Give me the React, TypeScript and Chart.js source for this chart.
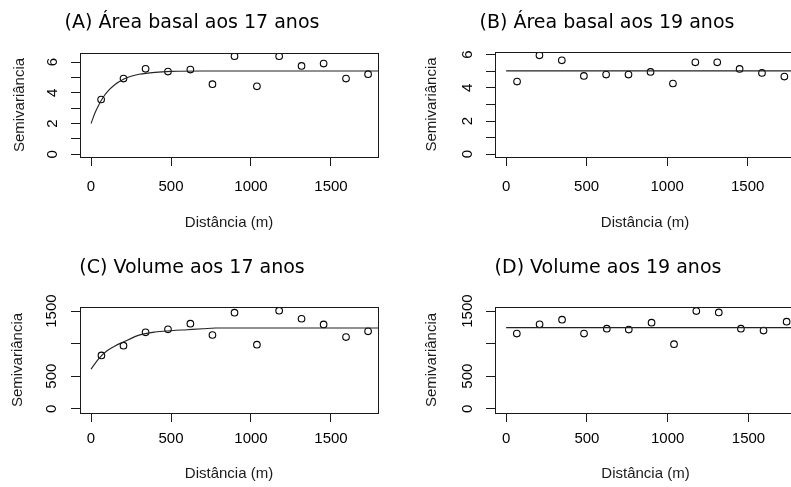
import React, { useEffect, useRef } from 'react';
import { Chart, registerables } from 'chart.js';

Chart.register(...registerables);

// ---------- data ----------
const xTicks = [0, 500, 1000, 1500];
const xMin = -69;
const xMax = 1794;

const titleA = '(A) Área basal aos 17 anos';
const lagsA = [63, 203, 341, 481, 621, 759, 897, 1037, 1176, 1316, 1454, 1594, 1732];
const gammaA = [3.57, 4.93, 5.57, 5.39, 5.52, 4.57, 6.39, 4.43, 6.39, 5.76, 5.91, 4.93, 5.22];
const modelDistA = [0, 25, 50, 75, 100, 150, 200, 250, 300, 400, 500, 700, 1794];
const modelGammaA = [2.0, 2.7, 3.25, 3.7, 4.05, 4.55, 4.87, 5.08, 5.21, 5.34, 5.4, 5.43, 5.43];
const yTicksA = [0, 1, 2, 3, 4, 5, 6];
const yLabelsA = ['0', '', '2', '', '4', '', '6'];

const titleB = '(B) Área basal aos 19 anos';
const lagsB = [68, 207, 346, 483, 621, 760, 897, 1036, 1175, 1311, 1450, 1589, 1728];
const gammaB = [4.38, 5.96, 5.66, 4.72, 4.8, 4.8, 4.96, 4.26, 5.54, 5.54, 5.14, 4.9, 4.68];
const modelDistB = [0, 1794];
const modelGammaB = [5.02, 5.02];
const yTicksB = [0, 1, 2, 3, 4, 5, 6];
const yLabelsB = ['0', '', '2', '', '4', '', '6'];

const titleC = '(C) Volume aos 17 anos';
const lagsC = [65, 203, 341, 481, 621, 759, 897, 1037, 1176, 1316, 1454, 1594, 1732];
const gammaC = [819, 968, 1173, 1219, 1306, 1132, 1475, 983, 1505, 1382, 1295, 1101, 1188];
const modelDistC = [0, 50, 100, 150, 200, 300, 400, 500, 600, 700, 780, 1794];
const modelGammaC = [609, 775, 890, 965, 1022, 1130, 1178, 1198, 1213, 1228, 1239, 1239];
const yTicksC = [0, 500, 1000, 1500];
const yLabelsC = ['0', '500', '', '1500'];

const titleD = '(D) Volume aos 19 anos';
const lagsD = [66, 207, 346, 482, 623, 759, 900, 1039, 1177, 1316, 1453, 1593, 1736];
const gammaD = [1154, 1296, 1368, 1154, 1230, 1215, 1322, 991, 1500, 1479, 1230, 1200, 1337];
const modelDistD = [0, 1794];
const modelGammaD = [1246, 1246];
const yTicksD = [0, 500, 1000, 1500];
const yLabelsD = ['0', '500', '', '1500'];

const xLabel = 'Distância (m)';
const yLabel = 'Semivariância';

// ---------- layout / style ----------
const AXIS_FONT = '"Liberation Sans", Arial, sans-serif';
const TITLE_FONT = '"DejaVu Sans", Verdana, sans-serif';

type Spec = {
  title: string;
  lags: number[];
  gamma: number[];
  mDist: number[];
  mGamma: number[];
  yTicks: number[];
  yLabels: string[];
  yMin: number;
  yMax: number;
  left: number;
  top: number;
  w: number;
  h: number;
  pl: number;
  pr: number;
  ys: number;
  xs: number;
  tPadTop: number;
  tPadBottom: number;
  xTickPad: number;
  xTitlePad: number;
  yTickPad: number;
  yTitlePad: number;
};

const specs: Spec[] = [
  {
    title: titleA, lags: lagsA, gamma: gammaA, mDist: modelDistA, mGamma: modelGammaA,
    yTicks: yTicksA, yLabels: yLabelsA, yMin: -0.18, yMax: 6.6,
    left: 0, top: 0, w: 395, h: 243, pl: 6, pr: 17, ys: 74, xs: 86,
    tPadTop: 12, tPadBottom: 18.2, xTickPad: 12, xTitlePad: 11.5, yTickPad: 14, yTitlePad: 4.5,
  },
  {
    title: titleB, lags: lagsB, gamma: gammaB, mDist: modelDistB, mGamma: modelGammaB,
    yTicks: yTicksB, yLabels: yLabelsB, yMin: -0.17, yMax: 6.16,
    left: 395, top: 0, w: 410, h: 243, pl: 24, pr: 10, ys: 76, xs: 86,
    tPadTop: 12, tPadBottom: 17.2, xTickPad: 12, xTitlePad: 11.5, yTickPad: 14, yTitlePad: 3.4,
  },
  {
    title: titleC, lags: lagsC, gamma: gammaC, mDist: modelDistC, mGamma: modelGammaC,
    yTicks: yTicksC, yLabels: yLabelsC, yMin: -65, yMax: 1562,
    left: 0, top: 243, w: 395, h: 244, pl: 6, pr: 17, ys: 74, xs: 74,
    tPadTop: 14, tPadBottom: 27.2, xTickPad: 8, xTitlePad: 4, yTickPad: 2, yTitlePad: 3,
  },
  {
    title: titleD, lags: lagsD, gamma: gammaD, mDist: modelDistD, mGamma: modelGammaD,
    yTicks: yTicksD, yLabels: yLabelsD, yMin: -65, yMax: 1562,
    left: 395, top: 243, w: 410, h: 244, pl: 25, pr: 9, ys: 75, xs: 74,
    tPadTop: 14, tPadBottom: 27.2, xTickPad: 8, xTitlePad: 4, yTickPad: 1.5, yTitlePad: 2.4,
  },
];

const boxPlugin = {
  id: 'rbox',
  afterDraw(chart: any) {
    const { ctx, chartArea: a } = chart;
    ctx.save();
    ctx.strokeStyle = '#1a1a1a';
    ctx.lineWidth = 1;
    const l = Math.round(a.left) + 0.5;
    const t = Math.round(a.top) + 0.5;
    const r = Math.round(a.right) + 0.5;
    const b = Math.round(a.bottom) + 0.5;
    ctx.strokeRect(l, t, r - l, b - t);
    ctx.restore();
  },
};

function makeConfig(s: Spec): any {
  const axisFont = { family: AXIS_FONT, size: 15 };
  return {
    type: 'scatter',
    data: {
      datasets: [
        {
          data: s.mDist.map((x, i) => ({ x, y: s.mGamma[i] })),
          showLine: true,
          borderColor: '#222',
          borderWidth: 1.1,
          pointRadius: 0,
          cubicInterpolationMode: 'monotone',
        },
        {
          data: s.lags.map((x, i) => ({ x, y: s.gamma[i] })),
          showLine: false,
          pointRadius: 3.3,
          pointBorderWidth: 1.1,
          pointBorderColor: '#000',
          pointBackgroundColor: 'rgba(0,0,0,0)',
        },
      ],
    },
    options: {
      animation: false,
      responsive: false,
      maintainAspectRatio: false,
      events: [],
      layout: { padding: { left: s.pl, right: s.pr, top: 0, bottom: 0 } },
      plugins: {
        legend: { display: false },
        tooltip: { enabled: false },
        title: {
          display: true,
          text: s.title,
          color: '#000',
          font: { family: TITLE_FONT, size: 19, weight: 'normal', lineHeight: 1.2 },
          padding: { top: s.tPadTop, bottom: s.tPadBottom },
        },
      },
      scales: {
        x: {
          type: 'linear',
          position: 'bottom',
          min: xMin,
          max: xMax,
          afterBuildTicks: (scale: any) => {
            scale.ticks = xTicks.map((v) => ({ value: v }));
          },
          afterFit: (scale: any) => {
            scale.height = s.xs;
          },
          grid: { display: true, drawOnChartArea: false, drawTicks: true, tickLength: 9, color: '#1a1a1a', lineWidth: 1 },
          border: { display: false },
          ticks: {
            autoSkip: false,
            maxRotation: 0,
            padding: s.xTickPad,
            color: '#000',
            font: axisFont,
            callback: (v: any) => String(v),
          },
          title: {
            display: true,
            text: xLabel,
            color: '#1a1a1a',
            font: axisFont,
            padding: { top: 0, bottom: s.xTitlePad },
          },
        },
        y: {
          type: 'linear',
          position: 'left',
          min: s.yMin,
          max: s.yMax,
          afterBuildTicks: (scale: any) => {
            scale.ticks = s.yTicks.map((v) => ({ value: v }));
          },
          afterFit: (scale: any) => {
            scale.width = s.ys;
          },
          grid: { display: true, drawOnChartArea: false, drawTicks: true, tickLength: 9, color: '#1a1a1a', lineWidth: 1 },
          border: { display: false },
          ticks: {
            autoSkip: false,
            minRotation: 90,
            maxRotation: 90,
            crossAlign: 'center',
            padding: s.yTickPad,
            color: '#000',
            font: axisFont,
            callback: (_v: any, i: number) => s.yLabels[i],
          },
          title: {
            display: true,
            text: yLabel,
            color: '#1a1a1a',
            font: axisFont,
            padding: { top: s.yTitlePad, bottom: 0 },
          },
        },
      },
    },
    plugins: [boxPlugin],
  };
}

function Panel({ spec }: { spec: Spec }) {
  const ref = useRef<HTMLCanvasElement | null>(null);
  useEffect(() => {
    if (!ref.current) return;
    const chart = new Chart(ref.current, makeConfig(spec));
    return () => chart.destroy();
  }, [spec]);
  return (
    <div style={{ position: 'absolute', left: spec.left, top: spec.top, width: spec.w, height: spec.h }}>
      <canvas ref={ref} width={spec.w} height={spec.h} style={{ display: 'block' }} />
    </div>
  );
}

export default function App() {
  return (
    <div
      style={{
        position: 'fixed',
        left: 0,
        top: 0,
        width: 791,
        height: 487,
        overflow: 'hidden',
        background: '#fff',
      }}
    >
      {specs.map((s, i) => (
        <Panel key={i} spec={s} />
      ))}
    </div>
  );
}
